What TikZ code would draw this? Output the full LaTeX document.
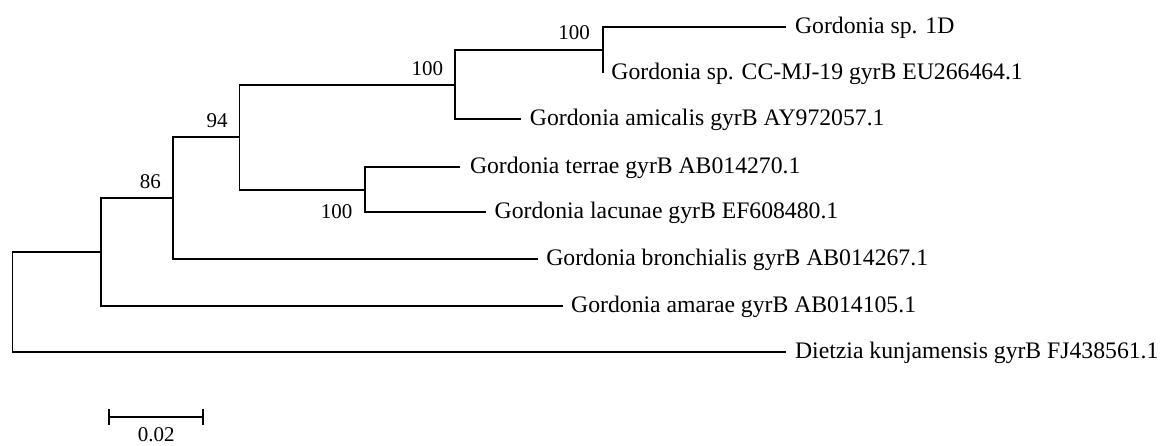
\documentclass[tikz,border=0pt]{standalone}
\usepackage{fontspec}
\setmainfont{Liberation Serif}
\begin{document}
\begin{tikzpicture}[x=1pt,y=-1pt,
  br/.style={line width=1.9pt, line join=miter},
  leaf/.style={anchor=base west, inner sep=0pt, font=\fontsize{23.7}{28}\selectfont},
  boot/.style={anchor=base, inner sep=0pt, font=\fontsize{21}{25}\selectfont}]
\useasboundingbox (0,0) rectangle (1163,445);
% internal nodes
\coordinate (root) at (12.5,302.3);
\coordinate (R1) at (100.6,252.3);
\coordinate (n86) at (173,198.3);
\coordinate (nA) at (239.5,136.7);
\coordinate (nB) at (455.4,85);
\coordinate (nC) at (602.7,50);
\coordinate (nT) at (364.7,189.7);
% leaf tips
\coordinate (t1D) at (786.4,26.7);
\coordinate (tCC) at (602.7,73.3);
\coordinate (tAmi) at (521.2,119);
\coordinate (tTer) at (460.3,166.7);
\coordinate (tLac) at (486,212.3);
\coordinate (tBro) at (537.6,259);
\coordinate (tAma) at (562.5,305.7);
\coordinate (tDie) at (786.4,352.3);
% branches
\draw[br] (root) |- (R1);
\draw[br] (root) |- (tDie);
\draw[br] (R1) |- (n86);
\draw[br] (R1) |- (tAma);
\draw[br] (n86) |- (nA);
\draw[br] (n86) |- (tBro);
\draw[br] (nA) |- (nB);
\draw[br] (nA) |- (nT);
\draw[br] (nB) |- (nC);
\draw[br] (nB) |- (tAmi);
\draw[br] (nC) |- (t1D);
\draw[br] (nC) |- (tCC);
\draw[br] (nT) |- (tTer);
\draw[br] (nT) |- (tLac);
% leaf labels
\node[leaf] (l1D) at ([shift={(8.5,6.5)}]t1D) {Gordonia sp. 1D};
\node[leaf] (lCC) at ([shift={(8.5,6.3)}]tCC) {Gordonia sp. CC-MJ-19 gyrB EU266464.1};
\node[leaf] (lAmi) at ([shift={(8.5,6.3)}]tAmi) {Gordonia amicalis gyrB AY972057.1};
\node[leaf] (lTer) at ([shift={(9.5,6.3)}]tTer) {Gordonia terrae gyrB AB014270.1};
\node[leaf] (lLac) at ([shift={(8.5,6.3)}]tLac) {Gordonia lacunae gyrB EF608480.1};
\node[leaf] (lBro) at ([shift={(8.5,6.3)}]tBro) {Gordonia bronchialis gyrB AB014267.1};
\node[leaf] (lAma) at ([shift={(8.5,6.3)}]tAma) {Gordonia amarae gyrB AB014105.1};
\node[leaf] (lDie) at ([shift={(8.5,6.3)}]tDie) {Dietzia kunjamensis gyrB FJ438561.1};
% bootstrap values
\node[boot] (bC) at (574,39.3) {100};
\node[boot] (bB) at (427.4,75.3) {100};
\node[boot] (bA) at (217,127.5) {94};
\node[boot] (b86) at (150.4,188.5) {86};
\node[boot] (bT) at (336.7,218) {100};
% scale bar
\coordinate (sL) at (109.3,417.3);
\coordinate (sR) at (203.3,417.3);
\draw[br] (sL) -- (sR);
\draw[br] ([yshift=-8]sL) -- ([yshift=8]sL);
\draw[br] ([yshift=-8]sR) -- ([yshift=8]sR);
\node[boot] (sc) at (156.3,441) {0.02};
\end{tikzpicture}
\end{document}
